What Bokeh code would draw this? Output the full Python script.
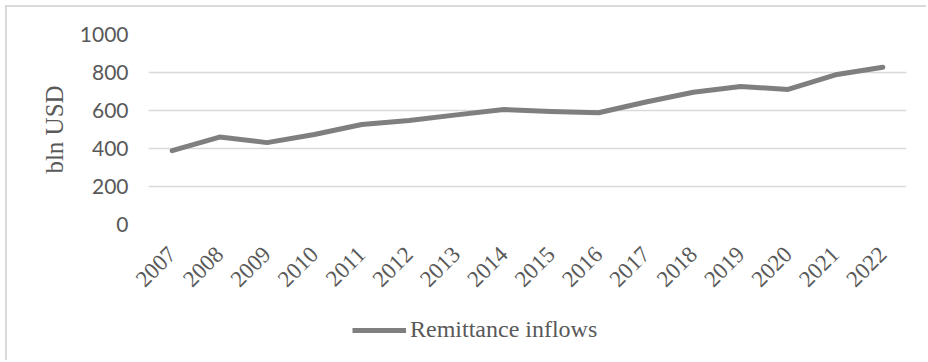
import math
from bokeh.plotting import figure
from bokeh.layouts import column
from bokeh.models import Range1d, FactorRange, Legend, LegendItem
from bokeh.embed import file_html
from bokeh.resources import INLINE

# Remittance inflows, bln USD
years = ["2007", "2008", "2009", "2010", "2011", "2012", "2013", "2014",
         "2015", "2016", "2017", "2018", "2019", "2020", "2021", "2022"]
remittances = [389, 460, 431, 474, 526, 547, 577, 605,
               595, 588, 645, 696, 726, 711, 788, 828]
y_ticks = [0, 200, 400, 600, 800, 1000]
series_name = "Remittance inflows"

TEXT = "#595959"
GRID = "#d9d9d9"
LINE = "#7f7f7f"
SERIF = "Liberation Serif"
LEGEND_H = 58

p = figure(
    width=921, height=355,
    x_range=FactorRange(*years, range_padding=0),
    y_range=Range1d(0, 1000),
    output_backend="svg", toolbar_location=None,
    min_border_left=141, min_border_right=22,
    min_border_top=27, min_border_bottom=138,
)
p.styles = {
    "margin-left": "5px", "margin-top": "5px",
    "border-left": f"2px solid {GRID}", "border-top": f"2px solid {GRID}",
}
p.outline_line_color = None
p.background_fill_color = "white"
p.border_fill_color = "white"

p.line(years, remittances, line_color=LINE, line_width=5,
       line_join="round", line_cap="round")

# y axis
p.yaxis.ticker = y_ticks
p.yaxis.axis_line_color = None
p.yaxis.major_tick_line_color = None
p.yaxis.minor_tick_line_color = None
p.yaxis.major_label_text_font = "Lato"
p.yaxis.major_label_text_font_size = "21px"
p.yaxis.major_label_text_color = TEXT
p.yaxis.major_label_standoff = 14
p.yaxis.axis_label = "bln USD"
p.yaxis.axis_label_text_font = SERIF
p.yaxis.axis_label_text_font_size = "25px"
p.yaxis.axis_label_text_font_style = "normal"
p.yaxis.axis_label_text_color = TEXT
p.yaxis.axis_label_standoff = 9

# x axis
p.xaxis.axis_line_color = None
p.xaxis.major_tick_line_color = None
p.xaxis.minor_tick_line_color = None
p.xaxis.major_label_orientation = math.pi / 4
p.xaxis.major_label_text_font = SERIF
p.xaxis.major_label_text_font_size = "23px"
p.xaxis.major_label_text_color = TEXT
p.xaxis.major_label_standoff = 20

p.xgrid.grid_line_color = None
p.ygrid.grid_line_color = GRID
p.ygrid.grid_line_width = 1.5

# legend strip laid over the empty bottom band of the chart
lg = figure(
    width=921, height=LEGEND_H,
    x_range=FactorRange(*years), y_range=Range1d(0, 1000),
    output_backend="svg", toolbar_location=None,
    x_axis_location=None, y_axis_location=None, min_border=0,
)
lg.margin = (-LEGEND_H, 0, 0, 7)
lg.grid.visible = False
lg.outline_line_color = None
lg.background_fill_alpha = 0
lg.border_fill_alpha = 0
key = lg.line(years, remittances, line_color=LINE, line_width=5, visible=False)

legend = Legend(
    items=[LegendItem(label=series_name, renderers=[key])],
    location=(204, 17),
    orientation="horizontal",
    glyph_width=54, glyph_height=26, label_standoff=4,
    padding=0, margin=0, spacing=0,
    border_line_color=None, background_fill_alpha=0,
    inactive_fill_alpha=0,
    label_text_font=SERIF, label_text_font_size="24px",
    label_text_color=TEXT,
)
lg.add_layout(legend, "center")

layout = column(p, lg, spacing=0)
open("out.html", "w").write(file_html(layout, INLINE))
